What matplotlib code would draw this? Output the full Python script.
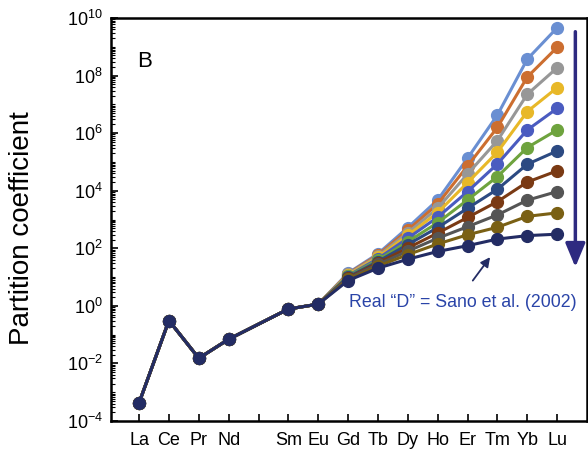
import numpy as np
import matplotlib
matplotlib.use("Agg")
import matplotlib.pyplot as plt
from matplotlib.ticker import LogLocator, FixedLocator, NullFormatter

plt.rcParams['font.family'] = ['Liberation Sans', 'DejaVu Sans']
plt.rcParams['mathtext.fontset'] = 'custom'
plt.rcParams['mathtext.rm'] = 'Liberation Sans'
plt.rcParams['mathtext.it'] = 'Liberation Sans'

elements = ["La", "Ce", "Pr", "Nd", "", "Sm", "Eu", "Gd", "Tb", "Dy", "Ho", "Er", "Tm", "Yb", "Lu"]
lree_names = ["La", "Ce", "Pr", "Nd", "Sm", "Eu"]
lree_pos = [1, 2, 3, 4, 6, 7]
lree_log = [-3.37, -0.51, -1.82, -1.16, -0.11, 0.06]

hree_names = ["Gd", "Tb", "Dy", "Ho", "Er", "Tm", "Yb", "Lu"]
hree_pos = [8, 9, 10, 11, 12, 13, 14, 15]
# log10 D for each model curve (top to bottom), Gd..Lu
curves_log = [
    [1.14, 1.81, 2.72, 3.68, 5.13, 6.63, 8.57, 9.66],
    [1.12, 1.77, 2.63, 3.54, 4.86, 6.20, 7.95, 8.98],
    [1.10, 1.73, 2.54, 3.39, 4.58, 5.74, 7.35, 8.27],
    [1.08, 1.69, 2.45, 3.24, 4.28, 5.34, 6.75, 7.58],
    [1.05, 1.64, 2.35, 3.08, 3.97, 4.93, 6.11, 6.86],
    [1.03, 1.59, 2.23, 2.89, 3.68, 4.49, 5.50, 6.11],
    [1.00, 1.54, 2.13, 2.72, 3.39, 4.05, 4.92, 5.38],
    [0.97, 1.49, 2.01, 2.53, 3.07, 3.62, 4.30, 4.69],
    [0.95, 1.44, 1.90, 2.35, 2.75, 3.16, 3.67, 3.97],
    [0.92, 1.38, 1.78, 2.15, 2.47, 2.73, 3.11, 3.23],
    [0.88, 1.31, 1.62, 1.89, 2.09, 2.32, 2.44, 2.49],
]
colors = ["#6A8FD2", "#CC6E30", "#979797", "#E8B828", "#4A5BC0", "#6EA33E",
          "#2C4A82", "#7A3A14", "#555555", "#7A6014", "#232C64"]

fig = plt.figure(figsize=(5.88, 4.54), dpi=100)
ax = fig.add_axes([111/588, 33/454, 476/588, 403/454])

for lg, c in zip(curves_log, colors):
    x = lree_pos + hree_pos
    y = 10.0 ** np.array(lree_log + lg)
    ax.plot(x, y, '-o', color=c, lw=2.2, ms=8.5, zorder=3)

ax.set_yscale('log')
ax.set_ylim(1e-4, 1e10)
ax.set_xlim(0.06, 16.0)

ax.yaxis.set_major_locator(FixedLocator([10.0**k for k in range(-4, 11, 2)]))
ax.set_yticklabels([r"$10^{%d}$" % k for k in range(-4, 11, 2)])
ax.yaxis.set_minor_locator(LogLocator(base=10, subs=np.arange(1, 10) * 1.0, numticks=100))
ax.yaxis.set_minor_formatter(NullFormatter())
ax.set_xticks(range(1, 16))
ax.set_xticklabels(elements)
ax.tick_params(axis='both', which='major', direction='in', length=5, width=1.2, labelsize=13)
ax.tick_params(axis='y', which='minor', direction='in', length=3, width=0.8)
ax.tick_params(axis='x', pad=8)
ax.tick_params(axis='y', pad=6)
for s in ax.spines.values():
    s.set_linewidth(1.8)

ax.set_ylabel("Partition coefficient", fontsize=20)
ax.yaxis.label.set_va('center')
ax.yaxis.set_label_coords(-(111 - 22) / 476, 1 - (228 - 18) / 403)

ax.text(137/588, 1 - 67/454, "B", transform=fig.transFigure, fontsize=16, ha='left', va='baseline')

ax.text(8.03, 10**0.115, "Real \u201cD\u201d = Sano et al. (2002)", color="#2A44A8",
        fontsize=12.8, ha='left', va='center')

ax.annotate("", xy=(12.81, 10**1.77), xytext=(12.12, 10**0.80),
            arrowprops=dict(arrowstyle='-|>', color="#232C64", lw=1.3, mutation_scale=14))
ax.annotate("", xy=(15.61, 10**1.25), xytext=(15.61, 10**9.62),
            arrowprops=dict(arrowstyle='-|>,head_length=0.72,head_width=0.3', color="#2E2A80",
                            lw=2.5, mutation_scale=20))

fig.savefig("out.png", dpi=100)
